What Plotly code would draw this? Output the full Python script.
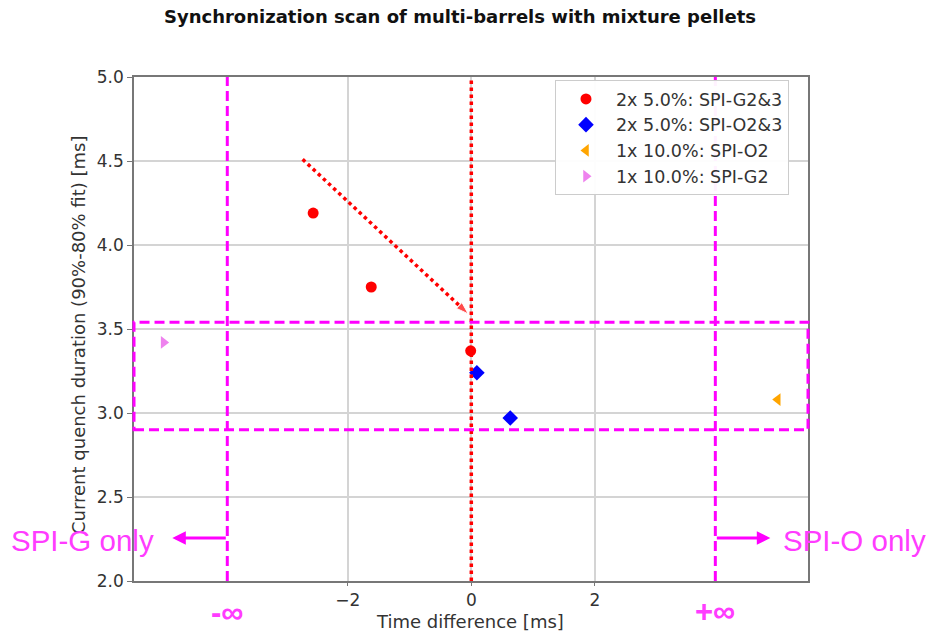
import plotly.graph_objects as go

# Measured points: time difference [ms] vs current quench duration [ms]
g23_dt = [-2.56, -1.62, -0.01]
g23_cq = [4.19, 3.75, 3.37]
o23_dt = [0.09, 0.63]
o23_cq = [3.24, 2.97]
o2_dt = [4.96]
o2_cq = [3.08]
g2_dt = [-4.98]
g2_cq = [3.42]

series_names = ["2x 5.0%: SPI-G2&3", "2x 5.0%: SPI-O2&3", "1x 10.0%: SPI-O2", "1x 10.0%: SPI-G2"]

x_ticks = [-2, 0, 2]
x_tick_text = ["\u22122", "0", "2"]
y_ticks = [2.0, 2.5, 3.0, 3.5, 4.0, 4.5, 5.0]

x_range = [-5.46, 5.45]
y_range = [2.0, 5.0]

# Guides: "infinite" delay limits, synchronised band and trend arrow
inf_limit = 3.95
band_low, band_high = 2.9, 3.54
trend_x = [-2.73, -0.05]
trend_y = [4.51, 3.59]
side_arrow_y = 2.256
side_arrow_len = 0.89

MAGENTA = "#ff00ff"
TXT_MAGENTA = "#ff3cff"
FONT = "DejaVu Sans"
DOTS = "3.5px,3.5px"
DASHES = "10px,5px"

fig = go.Figure()

fig.add_trace(go.Scatter(x=g23_dt, y=g23_cq, mode="markers", name=series_names[0],
                         marker=dict(color="#ff0000", size=11, symbol="circle")))
fig.add_trace(go.Scatter(x=o23_dt, y=o23_cq, mode="markers", name=series_names[1],
                         marker=dict(color="#0000ff", size=12, symbol="diamond")))
fig.add_trace(go.Scatter(x=o2_dt, y=o2_cq, mode="markers", name=series_names[2],
                         marker=dict(color="#ffa500", size=11, symbol="triangle-left")))
fig.add_trace(go.Scatter(x=g2_dt, y=g2_cq, mode="markers", name=series_names[3],
                         marker=dict(color="#ee82ee", size=11, symbol="triangle-right")))

# Dotted trend arrow
fig.add_trace(go.Scatter(x=trend_x, y=trend_y, mode="lines+markers", showlegend=False,
                         hoverinfo="skip",
                         line=dict(color="#ff0000", width=3.5, dash=DOTS),
                         marker=dict(color="#ff0000", size=[0, 13], symbol="arrow",
                                     angleref="previous")))

shapes = [
    # zero time difference
    dict(type="line", xref="x", yref="paper", x0=0, x1=0, y0=0, y1=1,
         line=dict(color="#ff0000", width=3.5, dash=DOTS)),
    # -inf / +inf limits
    dict(type="line", xref="x", yref="paper", x0=-inf_limit, x1=-inf_limit, y0=0, y1=1,
         line=dict(color=MAGENTA, width=3, dash=DASHES)),
    dict(type="line", xref="x", yref="paper", x0=inf_limit, x1=inf_limit, y0=0, y1=1,
         line=dict(color=MAGENTA, width=3, dash=DASHES)),
    # synchronised band
    dict(type="rect", xref="paper", yref="y", x0=0, x1=1, y0=band_low, y1=band_high,
         line=dict(color=MAGENTA, width=3, dash=DASHES), fillcolor="rgba(0,0,0,0)"),
]

annotations = [
    dict(text="<b>Synchronization scan of multi-barrels with mixture pellets</b>",
         xref="paper", yref="paper", x=0.484, y=1.12, xanchor="center", yanchor="middle",
         showarrow=False, font=dict(family=FONT, size=18, color="#111")),
    dict(text="Time difference [ms]", xref="paper", yref="paper", x=0.4985, y=-0.081,
         xanchor="center", yanchor="middle", showarrow=False,
         font=dict(family=FONT, size=18, color="#333")),
    dict(text="Current quench duration (90%-80% fit) [ms]", xref="paper", yref="paper",
         x=-0.0831, y=0.49, xanchor="center", yanchor="middle", textangle=-90,
         showarrow=False, font=dict(family=FONT, size=18, color="#333")),
    # side arrows
    dict(x=-inf_limit - side_arrow_len, y=side_arrow_y, ax=-inf_limit, ay=side_arrow_y,
         xref="x", yref="y", axref="x", ayref="y", text="", showarrow=True,
         arrowhead=2, arrowsize=0.9, arrowwidth=3, arrowcolor=MAGENTA),
    dict(x=inf_limit + side_arrow_len, y=side_arrow_y, ax=inf_limit, ay=side_arrow_y,
         xref="x", yref="y", axref="x", ayref="y", text="", showarrow=True,
         arrowhead=2, arrowsize=0.9, arrowwidth=3, arrowcolor=MAGENTA),
    dict(text="SPI-G only", xref="paper", yref="paper", x=-0.0757, y=0.0813,
         xanchor="center", yanchor="middle", showarrow=False,
         font=dict(family="Liberation Sans", size=29.5, color=TXT_MAGENTA)),
    dict(text="SPI-O only", xref="paper", yref="paper", x=1.0697, y=0.0813,
         xanchor="center", yanchor="middle", showarrow=False,
         font=dict(family="Liberation Sans", size=29.5, color=TXT_MAGENTA)),
    dict(text="<b>-\u221e</b>", xref="paper", yref="paper", x=(227 - 134) / 674, y=-0.063,
         xanchor="center", yanchor="middle", showarrow=False,
         font=dict(family="Liberation Sans", size=31, color=TXT_MAGENTA)),
    dict(text="<b>+\u221e</b>", xref="paper", yref="paper", x=(715 - 134) / 674, y=-0.061,
         xanchor="center", yanchor="middle", showarrow=False,
         font=dict(family="Liberation Sans", size=31, color=TXT_MAGENTA)),
]

fig.update_layout(
    width=933, height=632,
    margin=dict(l=134, r=125, t=77, b=51),
    paper_bgcolor="white", plot_bgcolor="white",
    font=dict(family=FONT, size=16, color="#333"),
    shapes=shapes, annotations=annotations,
    legend=dict(x=0.6246, y=0.994, xanchor="left", yanchor="top",
                bgcolor="rgba(255,255,255,0.95)", bordercolor="#cccccc", borderwidth=1,
                font=dict(family=FONT, size=17.5, color="#333"), tracegroupgap=0,
                itemwidth=50),
    showlegend=True,
)

fig.update_xaxes(range=x_range, tickvals=x_ticks, ticktext=x_tick_text,
                 showgrid=True, gridcolor="#d4d4d4", gridwidth=1.5,
                 showline=True, linecolor="#777", linewidth=1.5, mirror=True,
                 ticks="outside", ticklen=3, tickcolor="#777", zeroline=False,
                 tickfont=dict(family=FONT, size=17, color="#333"))
fig.update_yaxes(range=y_range, tickvals=y_ticks, tickformat=".1f",
                 showgrid=True, gridcolor="#d4d4d4", gridwidth=1.5,
                 showline=True, linecolor="#777", linewidth=1.5, mirror=True,
                 ticks="outside", ticklen=5, tickcolor="#777", zeroline=False,
                 tickfont=dict(family=FONT, size=17, color="#333"))

fig.write_html("out.html")
